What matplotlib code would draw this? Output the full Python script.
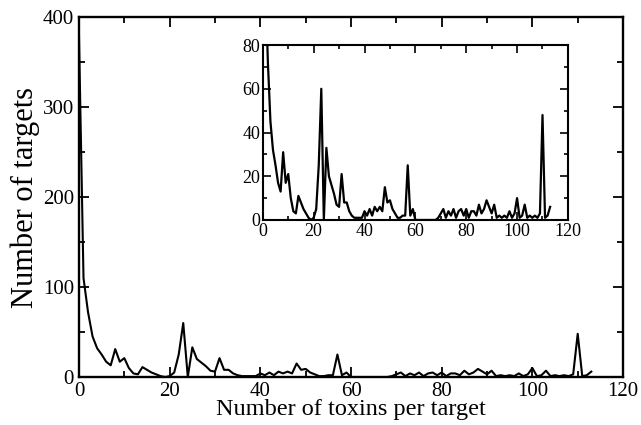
import matplotlib
matplotlib.use("Agg")
import matplotlib.pyplot as plt
from matplotlib.ticker import MultipleLocator

plt.rcParams['font.family'] = ['Liberation Serif', 'DejaVu Serif']

# Number of toxins per target (x) and number of targets (y)
toxins = list(range(0, 114))
targets = [
    380, 110, 72, 45, 32, 25, 17, 13, 31, 17,   # 0-9
    21, 10, 4, 3, 11, 8, 5, 3, 1, 0,            # 10-19
    1, 5, 25, 60, 0, 33, 20, 16, 12, 7,         # 20-29
    6, 21, 8, 8, 4, 2, 1, 1, 1, 1,              # 30-39
    4, 2, 5, 2, 6, 4, 6, 4, 15, 8,              # 40-49
    9, 5, 3, 1, 1, 2, 2, 25, 2, 5,              # 50-59
    0, 0, 0, 0, 0, 0, 0, 0, 0, 1,               # 60-69
    3, 5, 1, 4, 2, 5, 1, 4, 5, 2,               # 70-79
    5, 1, 4, 4, 2, 7, 3, 5, 9, 6,               # 80-89
    3, 7, 1, 2, 1, 2, 1, 4, 1, 3,               # 90-99
    10, 1, 2, 7, 1, 2, 1, 2, 1, 3,              # 100-109
    48, 1, 2, 6,                                # 110-113
]

main_xticks = [0, 20, 40, 60, 80, 100, 120]
main_yticks = [0, 100, 200, 300, 400]
inset_xticks = [0, 20, 40, 60, 80, 100, 120]
inset_yticks = [0, 20, 40, 60, 80]

fig = plt.figure(figsize=(6.41, 4.25), dpi=100)
ax = fig.add_axes([0.1232, 0.1129, 0.8488, 0.847])
ax.plot(toxins, targets, color='black', lw=1.5)
ax.set_xlim(0, 120)
ax.set_ylim(0, 400)
ax.set_xticks(main_xticks)
ax.set_yticks(main_yticks)
ax.xaxis.set_minor_locator(MultipleLocator(10))
ax.yaxis.set_minor_locator(MultipleLocator(50))
ax.tick_params(which='both', direction='in', top=True, right=True, labelsize=15, width=1.3)
ax.tick_params(which='major', length=7)
ax.tick_params(which='minor', length=4)
for s in ax.spines.values():
    s.set_linewidth(1.7)
ax.set_xlabel('Number of toxins per target', fontsize=17.5, labelpad=-1)
ax.set_ylabel('Number of targets', fontsize=22, labelpad=2)

ins = fig.add_axes([0.410, 0.4824, 0.476, 0.4116])
ins.plot(toxins, targets, color='black', lw=1.6)
ins.set_xlim(0, 120)
ins.set_ylim(0, 80)
ins.set_xticks(inset_xticks)
ins.set_yticks(inset_yticks)
ins.xaxis.set_minor_locator(MultipleLocator(10))
ins.yaxis.set_minor_locator(MultipleLocator(10))
ins.tick_params(which='both', direction='in', top=True, right=True, labelsize=13, width=1.2, pad=2)
ins.tick_params(which='major', length=6)
ins.tick_params(which='minor', length=3)
for s in ins.spines.values():
    s.set_linewidth(1.5)

fig.savefig('out.png', dpi=100)
